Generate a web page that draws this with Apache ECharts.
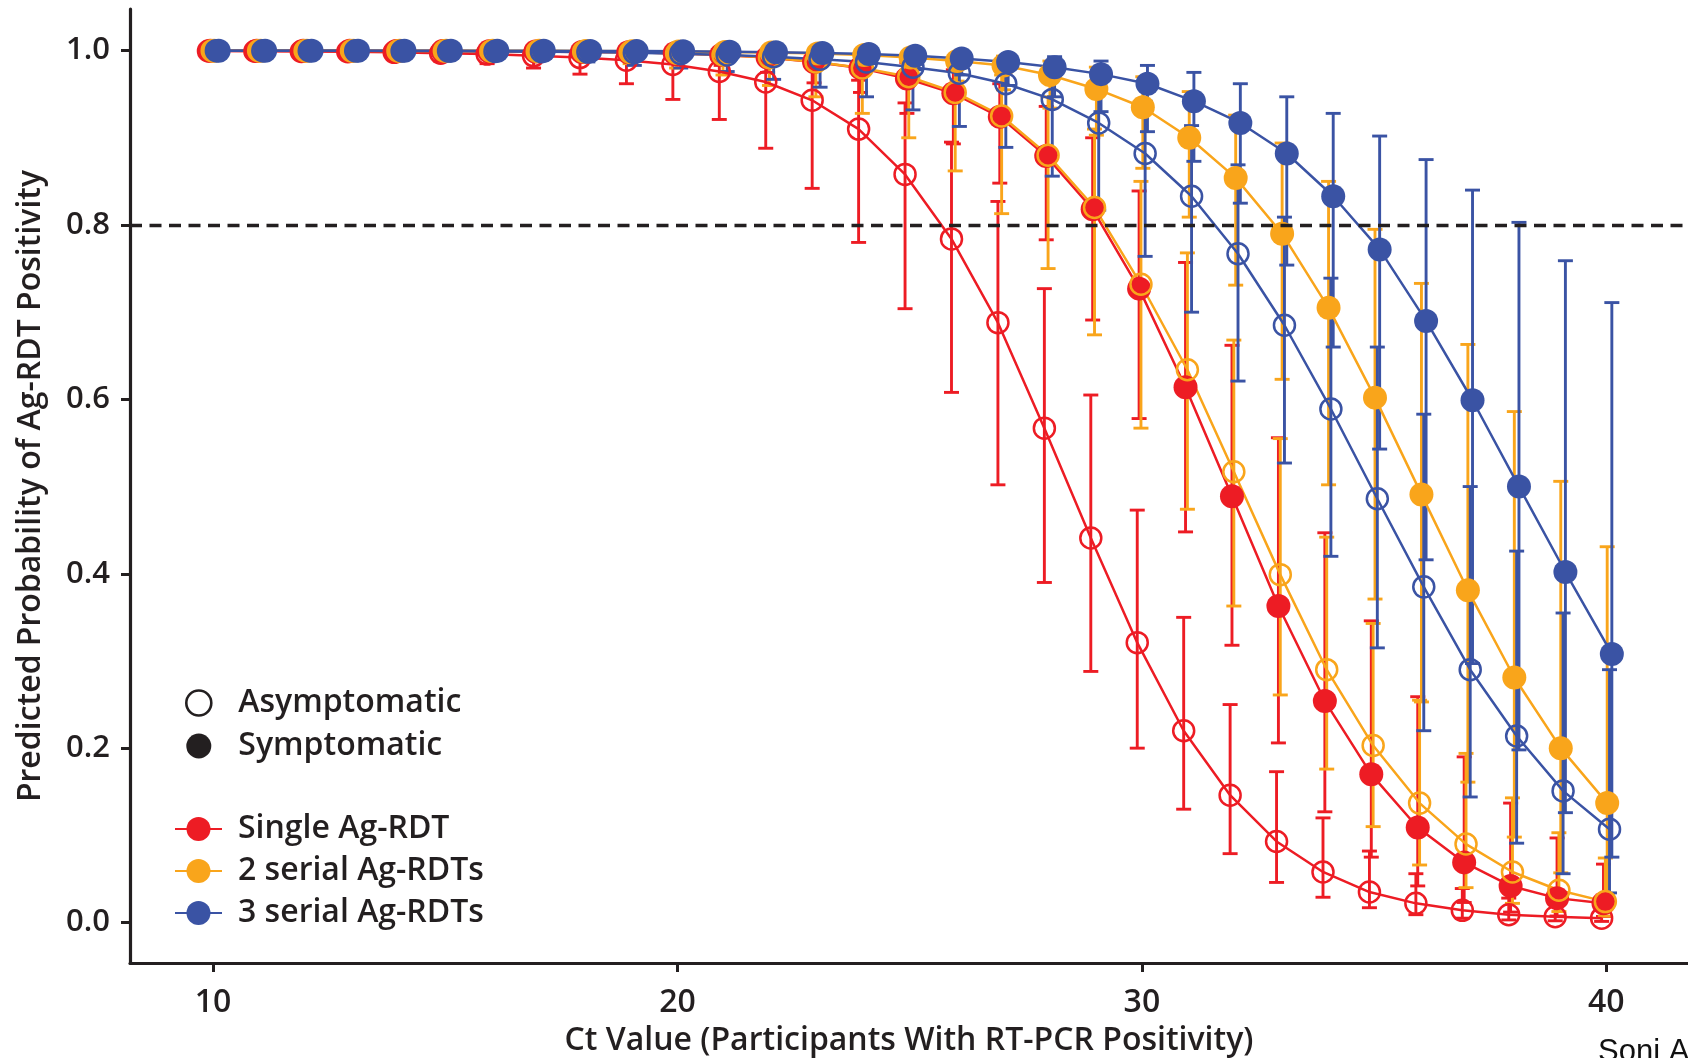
<!DOCTYPE html>
<html>
<head>
<meta charset="utf-8">
<script src="https://cdn.jsdelivr.net/npm/echarts@6/dist/echarts.min.js"></script>
<style>
    html, body { margin: 0; padding: 0; background: #fff; }
    #chart { width: 1688px; height: 1058px; }
</style>
</head>
<body>
<div id="chart"></div>
<script>
// Ct values on the x axis
const ctValues = [10, 11, 12, 13, 14, 15, 16, 17, 18, 19, 20, 21, 22, 23, 24, 25, 26, 27, 28, 29, 30, 31, 32, 33, 34, 35, 36, 37, 38, 39, 40];
const xTicks = [10, 20, 30, 40];
const yTicks = [0, 0.2, 0.4, 0.6, 0.8, 1.0];
const threshold = 0.8;

// single Ag-RDT
const singleAsym = [0.9995, 0.9993, 0.999, 0.9986, 0.998, 0.997, 0.996, 0.994, 0.992, 0.989, 0.984, 0.976, 0.964, 0.943, 0.91, 0.858, 0.784, 0.688, 0.567, 0.441, 0.321, 0.22, 0.146, 0.093, 0.058, 0.035, 0.022, 0.014, 0.009, 0.0067, 0.005];
const singleAsymLow = [0.996, 0.995, 0.994, 0.992, 0.99, 0.988, 0.985, 0.98, 0.973, 0.962, 0.944, 0.921, 0.888, 0.842, 0.78, 0.704, 0.608, 0.502, 0.39, 0.288, 0.2, 0.13, 0.079, 0.046, 0.029, 0.017, 0.009, 0.005, 0.003, 0.002, 0.0013];
const singleAsymHigh = [0.9999, 0.9999, 0.9999, 0.9998, 0.9998, 0.9997, 0.9996, 0.9994, 0.999, 0.997, 0.996, 0.993, 0.989, 0.981, 0.966, 0.94, 0.895, 0.827, 0.727, 0.605, 0.473, 0.35, 0.25, 0.173, 0.12, 0.082, 0.056, 0.039, 0.028, 0.023, 0.019];
const singleSym = [0.9999, 0.9998, 0.9998, 0.9997, 0.9996, 0.9994, 0.9992, 0.999, 0.9985, 0.998, 0.997, 0.995, 0.992, 0.987, 0.98, 0.968, 0.951, 0.924, 0.879, 0.818, 0.727, 0.614, 0.489, 0.363, 0.254, 0.17, 0.109, 0.069, 0.042, 0.028, 0.022];
const singleSymLow = [0.9994, 0.9992, 0.999, 0.9988, 0.9985, 0.998, 0.997, 0.996, 0.994, 0.992, 0.989, 0.983, 0.975, 0.963, 0.952, 0.928, 0.893, 0.848, 0.783, 0.691, 0.578, 0.448, 0.318, 0.206, 0.127, 0.075, 0.042, 0.023, 0.012, 0.0075, 0.007];
const singleSymHigh = [1.0, 1.0, 1.0, 0.9999, 0.9999, 0.9999, 0.9998, 0.9998, 0.9997, 0.9995, 0.999, 0.9985, 0.998, 0.995, 0.992, 0.986, 0.978, 0.962, 0.936, 0.9, 0.839, 0.757, 0.662, 0.556, 0.447, 0.346, 0.259, 0.19, 0.137, 0.097, 0.067];

// 2 serial Ag-RDTs
const doubleAsym = [0.9999, 0.9998, 0.9998, 0.9997, 0.9996, 0.9995, 0.9993, 0.999, 0.9988, 0.998, 0.997, 0.995, 0.992, 0.987, 0.98, 0.97, 0.952, 0.925, 0.88, 0.82, 0.732, 0.634, 0.517, 0.399, 0.29, 0.203, 0.137, 0.09, 0.058, 0.037, 0.024];
const doubleAsymLow = [0.9993, 0.999, 0.9985, 0.998, 0.997, 0.996, 0.995, 0.993, 0.99, 0.985, 0.98, 0.972, 0.96, 0.947, 0.928, 0.9, 0.862, 0.813, 0.75, 0.674, 0.567, 0.474, 0.363, 0.261, 0.176, 0.11, 0.066, 0.04, 0.022, 0.0126, 0.0074];
const doubleAsymHigh = [1.0, 1.0, 1.0, 1.0, 0.9999, 0.9999, 0.9999, 0.9998, 0.9998, 0.9996, 0.9994, 0.9991, 0.9984, 0.997, 0.9946, 0.9915, 0.984, 0.972, 0.947, 0.91, 0.85, 0.768, 0.668, 0.555, 0.442, 0.343, 0.255, 0.194, 0.143, 0.103, 0.074];
const doubleSym = [0.9999, 0.9999, 0.9999, 0.9999, 0.9998, 0.9998, 0.9997, 0.9997, 0.9995, 0.9993, 0.999, 0.9985, 0.9978, 0.9967, 0.995, 0.992, 0.988, 0.983, 0.972, 0.956, 0.935, 0.9, 0.854, 0.79, 0.705, 0.602, 0.491, 0.381, 0.281, 0.2, 0.137];
const doubleSymLow = [0.9996, 0.9995, 0.9994, 0.9992, 0.999, 0.9985, 0.998, 0.997, 0.996, 0.995, 0.993, 0.991, 0.989, 0.986, 0.982, 0.974, 0.965, 0.955, 0.934, 0.903, 0.865, 0.809, 0.731, 0.623, 0.502, 0.371, 0.253, 0.161, 0.098, 0.057, 0.032];
const doubleSymHigh = [1.0, 1.0, 1.0, 1.0, 1.0, 1.0, 1.0, 1.0, 0.9999, 0.9999, 0.9998, 0.9997, 0.9996, 0.9993, 0.9986, 0.9976, 0.996, 0.9937, 0.988, 0.981, 0.97, 0.953, 0.926, 0.894, 0.85, 0.795, 0.733, 0.663, 0.586, 0.506, 0.431];

// 3 serial Ag-RDTs
const tripleAsym = [0.9999, 0.9998, 0.9998, 0.9997, 0.9996, 0.9994, 0.9991, 0.9988, 0.9983, 0.9975, 0.9965, 0.995, 0.993, 0.99, 0.987, 0.981, 0.974, 0.962, 0.944, 0.917, 0.882, 0.833, 0.767, 0.685, 0.589, 0.486, 0.385, 0.29, 0.214, 0.151, 0.107];
const tripleAsymLow = [0.9985, 0.998, 0.9975, 0.9965, 0.9955, 0.994, 0.992, 0.99, 0.987, 0.983, 0.98, 0.976, 0.967, 0.958, 0.947, 0.932, 0.913, 0.889, 0.856, 0.817, 0.764, 0.7, 0.621, 0.527, 0.42, 0.315, 0.22, 0.144, 0.091, 0.056, 0.034];
const tripleAsymHigh = [1.0, 1.0, 1.0, 1.0, 1.0, 0.9999, 0.9999, 0.9998, 0.9997, 0.9995, 0.9993, 0.999, 0.9985, 0.998, 0.9965, 0.9948, 0.9925, 0.9876, 0.98, 0.964, 0.942, 0.914, 0.869, 0.809, 0.739, 0.66, 0.583, 0.5, 0.426, 0.355, 0.29];
const tripleSym = [0.9999, 0.9999, 0.9999, 0.9999, 0.9999, 0.9999, 0.9998, 0.9997, 0.9996, 0.9994, 0.9992, 0.9988, 0.9982, 0.9973, 0.996, 0.994, 0.991, 0.987, 0.981, 0.973, 0.962, 0.942, 0.917, 0.882, 0.833, 0.772, 0.69, 0.599, 0.5, 0.402, 0.308];
const tripleSymLow = [0.9996, 0.9995, 0.9994, 0.9993, 0.9992, 0.999, 0.9985, 0.998, 0.997, 0.996, 0.995, 0.993, 0.991, 0.988, 0.985, 0.978, 0.972, 0.96, 0.947, 0.93, 0.907, 0.873, 0.825, 0.754, 0.66, 0.543, 0.416, 0.297, 0.198, 0.126, 0.075];
const tripleSymHigh = [1.0, 1.0, 1.0, 1.0, 1.0, 1.0, 1.0, 1.0, 1.0, 0.9999, 0.9998, 0.9997, 0.9995, 0.9993, 0.9989, 0.998, 0.997, 0.9956, 0.993, 0.988, 0.983, 0.975, 0.962, 0.947, 0.928, 0.902, 0.875, 0.84, 0.803, 0.759, 0.711];

const textColor = "#231f20";
const fontFamily = "'Open Sans', 'Noto Sans', sans-serif";
const RED = "#ed1c24";
const ORANGE = "#f9a51b";
const BLUE = "#3a53a4";

// small horizontal dodge so that the six groups don't sit on top of each other
const groups = [
    { name: "Single Ag-RDT", color: RED, asym: [singleAsym, singleAsymLow, singleAsymHigh], sym: [singleSym, singleSymLow, singleSymHigh], dodge: [-0.1, -0.06] },
    { name: "2 serial Ag-RDTs", color: ORANGE, asym: [doubleAsym, doubleAsymLow, doubleAsymHigh], sym: [doubleSym, doubleSymLow, doubleSymHigh], dodge: [-0.02, 0.02] },
    { name: "3 serial Ag-RDTs", color: BLUE, asym: [tripleAsym, tripleAsymLow, tripleAsymHigh], sym: [tripleSym, tripleSymLow, tripleSymHigh], dodge: [0.07, 0.12] },
];

function renderErrorBar(params, api) {
    const x = api.value(0);
    const lo = api.coord([x, api.value(1)]);
    const hi = api.coord([x, api.value(2)]);
    const half = 7.5;
    const style = { stroke: api.visual("color"), lineWidth: 2.9 };
    return {
        type: "group",
        children: [
            { type: "line", shape: { x1: lo[0], y1: lo[1], x2: hi[0], y2: hi[1] }, style: style },
            { type: "line", shape: { x1: lo[0] - half, y1: lo[1], x2: lo[0] + half, y2: lo[1] }, style: style },
            { type: "line", shape: { x1: hi[0] - half, y1: hi[1], x2: hi[0] + half, y2: hi[1] }, style: style },
        ],
    };
}

let series = [];
groups.forEach((g) => {
    const sets = [
        { vals: g.asym, off: g.dodge[0], open: true },
        { vals: g.sym, off: g.dodge[1], open: false },
    ];
    sets.forEach((s) => {
        series.push({
            type: "line",
            name: g.name + (s.open ? " asym" : " sym"),
            data: ctValues.map((ct, i) => [ct + s.off, s.vals[0][i]]),
            symbol: "circle",
            symbolSize: s.open ? 21 : 24,
            lineStyle: { color: g.color, width: 2.5 },
            itemStyle: s.open
                ? { color: "rgba(255,255,255,0)", borderColor: g.color, borderWidth: 2.5 }
                : { color: g.color, borderWidth: 0 },
            emphasis: { disabled: true },
        });
    });
    sets.forEach((s) => {
        series.push({
            type: "custom",
            name: g.name + (s.open ? " asym ci" : " sym ci"),
            renderItem: renderErrorBar,
            itemStyle: { color: g.color },
            encode: { x: 0, y: [1, 2] },
            data: ctValues.map((ct, i) => [ct + s.off, s.vals[1][i], s.vals[2][i]]),
        });
    });
});

// legend only series
series.push(
    { type: "scatter", name: "Asymptomatic", data: [], itemStyle: { opacity: 1 } },
    { type: "scatter", name: "Symptomatic", data: [], itemStyle: { opacity: 1 } },
    { type: "line", name: "Single Ag-RDT", data: [], symbol: "circle", itemStyle: { color: RED }, lineStyle: { color: RED, width: 2.8 } },
    { type: "line", name: "2 serial Ag-RDTs", data: [], symbol: "circle", itemStyle: { color: ORANGE }, lineStyle: { color: ORANGE, width: 2.8 } },
    { type: "line", name: "3 serial Ag-RDTs", data: [], symbol: "circle", itemStyle: { color: BLUE }, lineStyle: { color: BLUE, width: 2.8 } },
    {
        type: "line",
        name: "threshold",
        data: [],
        z: 10,
        markLine: {
            silent: true,
            symbol: "none",
            label: { show: false },
            lineStyle: { color: textColor, width: 3.3, type: [12, 7.5] },
            data: [{ yAxis: threshold }],
        },
    }
);

const labelStyle = { fontFamily: fontFamily, fontWeight: 600, color: textColor };

let option = {
    animation: false,
    backgroundColor: "#fff",
    grid: { left: 130, right: 0, top: 9, bottom: 95, outerBoundsMode: "none" },
    xAxis: {
        type: "value",
        min: 8.21,
        max: 41.76,
        name: "Ct Value (Participants With RT-PCR Positivity)",
        nameLocation: "middle",
        nameGap: 62,
        nameTextStyle: { ...labelStyle, fontSize: 32 },
        axisLine: { onZero: false, lineStyle: { color: textColor, width: 3.2 } },
        axisTick: { show: true, length: 9, customValues: xTicks, lineStyle: { color: textColor, width: 3 } },
        axisLabel: { customValues: xTicks, margin: 24, fontSize: 32, ...labelStyle },
        splitLine: { show: false },
    },
    yAxis: {
        type: "value",
        min: -0.0464,
        max: 1.0477,
        name: "Predicted Probability of Ag-RDT Positivity",
        nameLocation: "middle",
        nameGap: 83,
        nameTextStyle: { ...labelStyle, fontSize: 32 },
        axisLine: { show: true, onZero: false, lineStyle: { color: textColor, width: 3.2 } },
        axisTick: { show: true, length: 9, customValues: yTicks, lineStyle: { color: textColor, width: 3 } },
        axisLabel: {
            customValues: yTicks,
            margin: 20,
            fontSize: 31,
            ...labelStyle,
            formatter: (v) => v.toFixed(1),
        },
        splitLine: { show: false },
    },
    legend: [
        {
            orient: "vertical",
            left: 185,
            top: 687,
            padding: 0,
            itemWidth: 25,
            itemHeight: 25,
            itemGap: 11,
            selectedMode: false,
            textStyle: { ...labelStyle, fontSize: 32, padding: [0, 0, 0, 22] },
            data: [
                { name: "Asymptomatic", icon: "circle", itemStyle: { color: "#fff", borderColor: textColor, borderWidth: 2.6, opacity: 1 } },
                { name: "Symptomatic", icon: "circle", itemStyle: { color: textColor, borderWidth: 0, opacity: 1 } },
            ],
        },
        {
            orient: "vertical",
            left: 174,
            top: 813,
            padding: 0,
            itemWidth: 47,
            itemHeight: 30,
            itemGap: 10,
            selectedMode: false,
            textStyle: { ...labelStyle, fontSize: 32, padding: [0, 0, 0, 11] },
            data: ["Single Ag-RDT", "2 serial Ag-RDTs", "3 serial Ag-RDTs"],
        },
    ],
    graphic: [
        {
            type: "text",
            left: 1598,
            top: 1037,
            style: { text: "Soni A", fontSize: 31, fontFamily: "'Liberation Sans', sans-serif", fill: "#111" },
        },
    ],
    series: series,
};

const chart = echarts.init(document.getElementById("chart"));
chart.setOption(option);
</script>
</body>
</html>
